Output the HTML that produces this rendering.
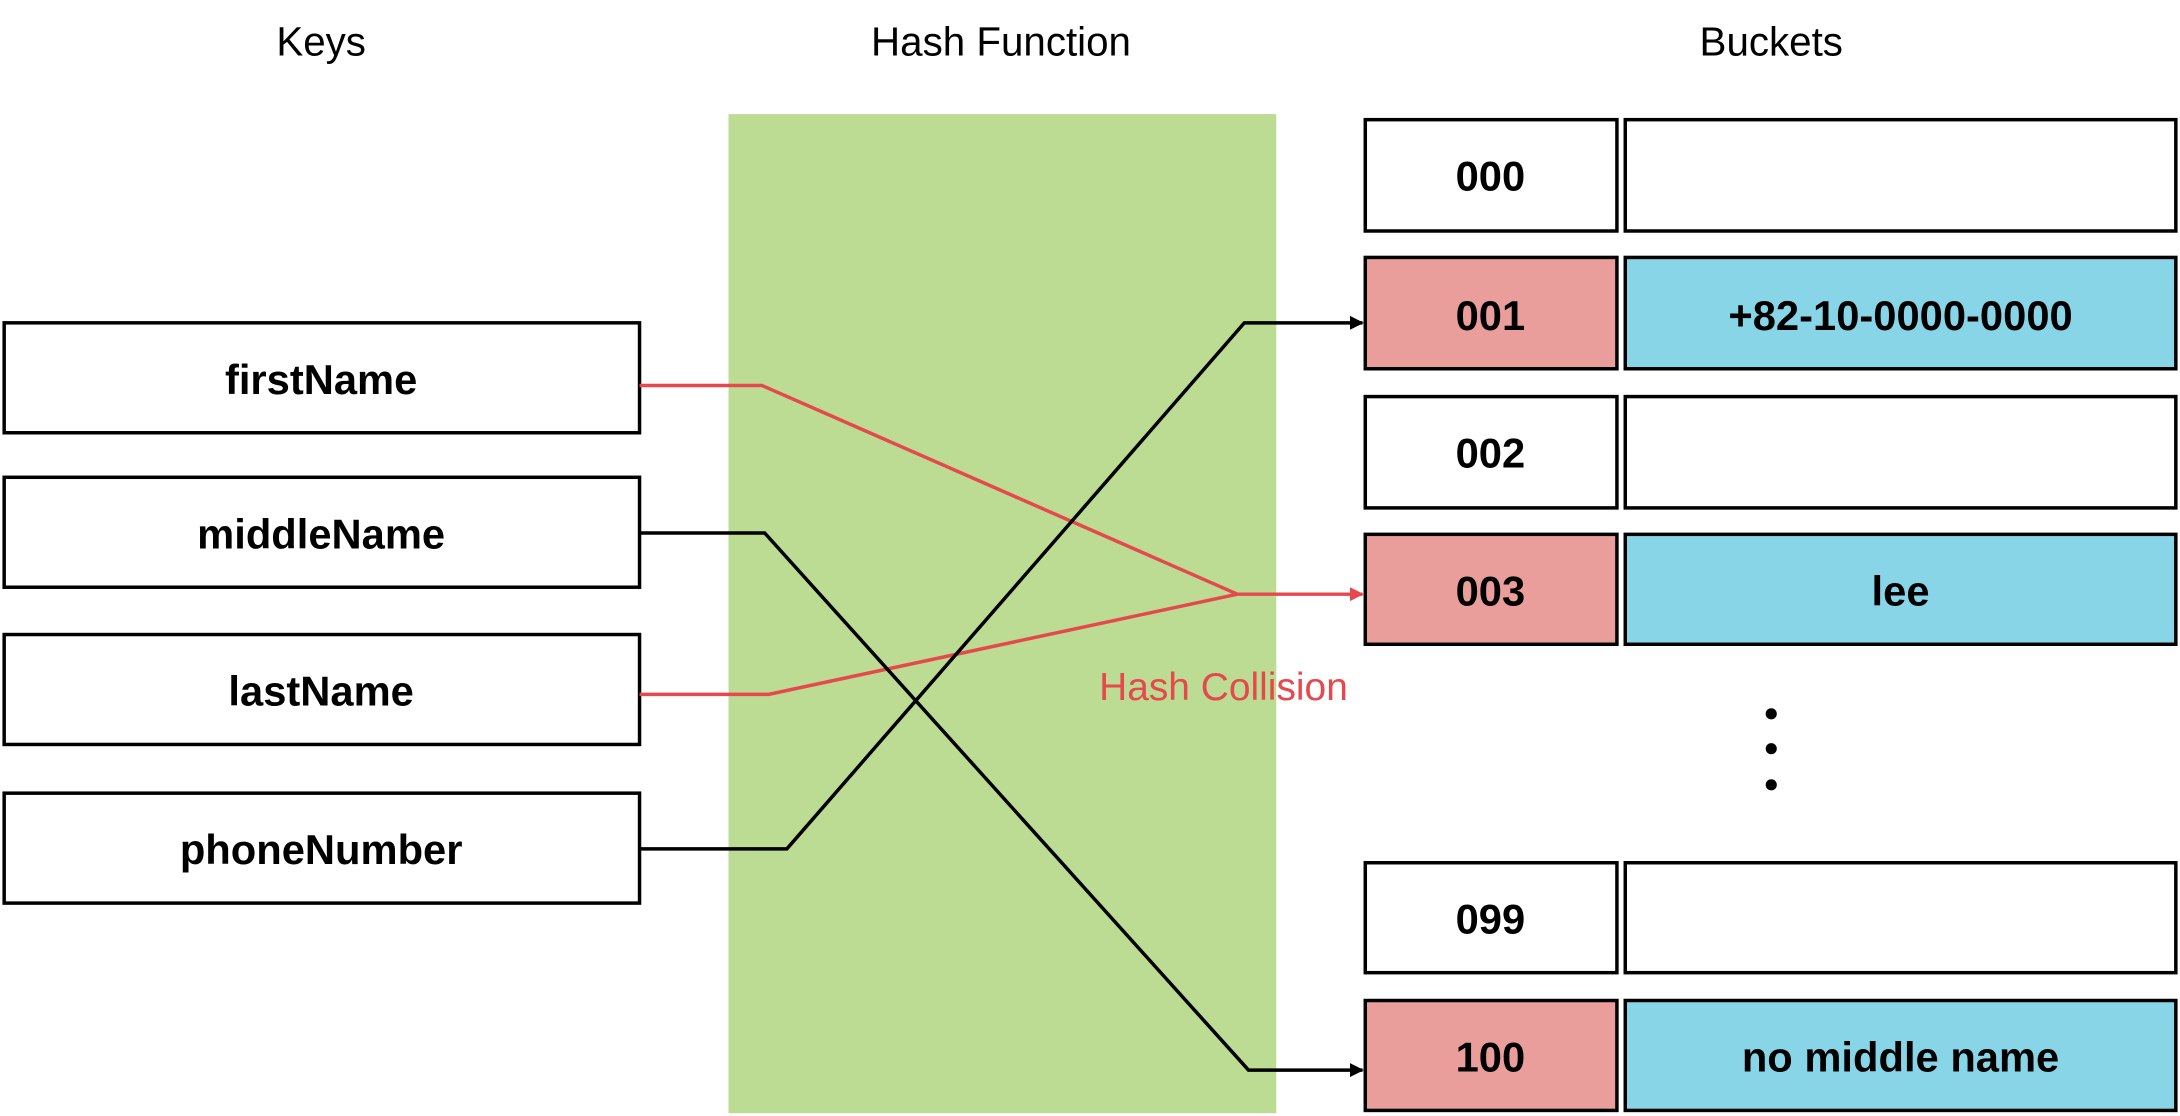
<!DOCTYPE html>
<html><head><meta charset="utf-8"><style>
html,body{margin:0;padding:0;background:#fff;}
svg{display:block;}
text{font-family:"Liberation Sans",Arial,sans-serif;}
</style></head><body>
<svg width="2180" height="1116" viewBox="0 0 1568 802" preserveAspectRatio="none" xmlns="http://www.w3.org/2000/svg">
<defs>
<marker id="ab" markerWidth="10" markerHeight="10" refX="9" refY="5" orient="auto" markerUnits="userSpaceOnUse"><path d="M0,0 L10,5 L0,10 Z" fill="#000"/></marker>
<marker id="ar" markerWidth="10" markerHeight="10" refX="9" refY="5" orient="auto" markerUnits="userSpaceOnUse"><path d="M0,0 L10,5 L0,10 Z" fill="#e5484d"/></marker>
</defs>
<g font-size="29" text-anchor="middle">
<text x="231" y="40">Keys</text>
<text x="720" y="40">Hash Function</text>
<text x="1274" y="40">Buckets</text>
</g>
<rect x="524" y="82" width="394" height="718" fill="#bddc93"/>
<g fill="#fff" stroke="#000" stroke-width="2.5">
<rect x="3" y="232" width="457" height="79"/>
<rect x="3" y="343" width="457" height="79"/>
<rect x="3" y="456" width="457" height="79"/>
<rect x="3" y="570" width="457" height="79"/>
</g>
<g font-size="30" font-weight="bold" text-anchor="middle">
<text x="231" y="283">firstName</text>
<text x="231" y="394">middleName</text>
<text x="231" y="507">lastName</text>
<text x="231" y="621">phoneNumber</text>
</g>
<g stroke="#000" stroke-width="2.5">
<rect x="982" y="86" width="181" height="80" fill="#fff"/><rect x="1169" y="86" width="396" height="80" fill="#fff"/>
<rect x="982" y="185" width="181" height="80" fill="#ea9e9b"/><rect x="1169" y="185" width="396" height="80" fill="#89d5e8"/>
<rect x="982" y="285" width="181" height="80" fill="#fff"/><rect x="1169" y="285" width="396" height="80" fill="#fff"/>
<rect x="982" y="384" width="181" height="79" fill="#ea9e9b"/><rect x="1169" y="384" width="396" height="79" fill="#89d5e8"/>
<rect x="982" y="620" width="181" height="79" fill="#fff"/><rect x="1169" y="620" width="396" height="79" fill="#fff"/>
<rect x="982" y="719" width="181" height="79" fill="#ea9e9b"/><rect x="1169" y="719" width="396" height="79" fill="#89d5e8"/>
</g>
<g font-size="30" font-weight="bold" text-anchor="middle">
<text x="1072" y="137">000</text>
<text x="1072" y="237">001</text><text x="1367" y="237">+82-10-0000-0000</text>
<text x="1072" y="336">002</text>
<text x="1072" y="435">003</text><text x="1367" y="435">lee</text>
<text x="1072" y="671">099</text>
<text x="1072" y="770">100</text><text x="1367" y="770">no middle name</text>
</g>
<g fill="#000"><circle cx="1274" cy="513" r="4"/><circle cx="1274" cy="538" r="4"/><circle cx="1274" cy="564" r="4"/></g>
<g fill="none" stroke-width="2.5">
<polyline points="460,277 548,277 890,427 980,427" stroke="#e5484d" marker-end="url(#ar)"/>
<polyline points="460,499 553,499 890,427" stroke="#e5484d"/>
<polyline points="460,383 550,383 898,769 980,769" stroke="#000" marker-end="url(#ab)"/>
<polyline points="460,610 566,610 895,232 980,232" stroke="#000" marker-end="url(#ab)"/>
</g>
<text x="880" y="503" font-size="28" fill="#e5484d" text-anchor="middle">Hash Collision</text>
</svg>
</body></html>
